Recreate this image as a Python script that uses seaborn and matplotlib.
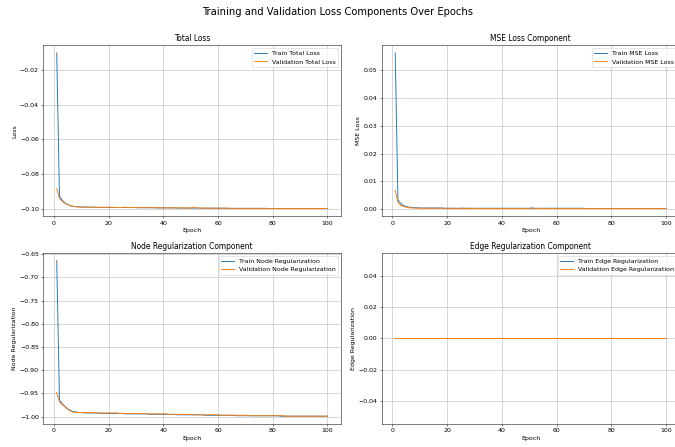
"""Training and validation loss components over epochs."""

import matplotlib
matplotlib.use('Agg')
import matplotlib.pyplot as plt
import seaborn as sns
import pandas as pd

epochs = list(range(1, 101))

train_total = [
    -0.0104, -0.0925, -0.0950, -0.0964, -0.0974, -0.0980, -0.0984, -0.0986, -0.0987, -0.0988,
    -0.0988, -0.0989, -0.0989, -0.0989, -0.0989, -0.0990, -0.0990, -0.0990, -0.0990, -0.0990,
    -0.0990, -0.0990, -0.0991, -0.0991, -0.0991, -0.0991, -0.0991, -0.0991, -0.0991, -0.0992,
    -0.0992, -0.0992, -0.0992, -0.0992, -0.0992, -0.0992, -0.0993, -0.0993, -0.0993, -0.0993,
    -0.0993, -0.0993, -0.0993, -0.0993, -0.0994, -0.0994, -0.0994, -0.0994, -0.0994, -0.0994,
    -0.0994, -0.0994, -0.0994, -0.0995, -0.0995, -0.0995, -0.0995, -0.0995, -0.0995, -0.0995,
    -0.0995, -0.0995, -0.0995, -0.0996, -0.0996, -0.0996, -0.0996, -0.0996, -0.0996, -0.0996,
    -0.0996, -0.0996, -0.0996, -0.0996, -0.0996, -0.0996, -0.0996, -0.0997, -0.0997, -0.0997,
    -0.0997, -0.0997, -0.0997, -0.0997, -0.0997, -0.0997, -0.0997, -0.0997, -0.0997, -0.0997,
    -0.0997, -0.0997, -0.0997, -0.0997, -0.0997, -0.0997, -0.0997, -0.0997, -0.0997, -0.0997,
]
val_total = [
    -0.0881, -0.0940, -0.0956, -0.0967, -0.0975, -0.0981, -0.0985, -0.0987, -0.0988, -0.0989,
    -0.0989, -0.0989, -0.0989, -0.0990, -0.0990, -0.0990, -0.0990, -0.0990, -0.0990, -0.0990,
    -0.0990, -0.0991, -0.0991, -0.0991, -0.0991, -0.0989, -0.0991, -0.0991, -0.0991, -0.0991,
    -0.0992, -0.0992, -0.0992, -0.0992, -0.0992, -0.0992, -0.0992, -0.0992, -0.0993, -0.0993,
    -0.0993, -0.0993, -0.0993, -0.0993, -0.0993, -0.0993, -0.0994, -0.0994, -0.0994, -0.0994,
    -0.0989, -0.0994, -0.0994, -0.0994, -0.0994, -0.0995, -0.0995, -0.0995, -0.0995, -0.0995,
    -0.0995, -0.0995, -0.0995, -0.0995, -0.0996, -0.0996, -0.0996, -0.0996, -0.0996, -0.0996,
    -0.0996, -0.0996, -0.0996, -0.0996, -0.0996, -0.0996, -0.0996, -0.0996, -0.0997, -0.0997,
    -0.0997, -0.0997, -0.0997, -0.0997, -0.0997, -0.0997, -0.0997, -0.0997, -0.0997, -0.0997,
    -0.0997, -0.0997, -0.0997, -0.0997, -0.0997, -0.0997, -0.0997, -0.0997, -0.0997, -0.0997,
]

train_mse = [
    0.0560, 0.0034, 0.0021, 0.0014, 0.0010, 0.0008, 0.0007, 0.0006, 0.0006, 0.0005,
    0.0005, 0.0005, 0.0005, 0.0005, 0.0005, 0.0005, 0.0005, 0.0005, 0.0004, 0.0004,
    0.0004, 0.0004, 0.0004, 0.0004, 0.0004, 0.0004, 0.0004, 0.0004, 0.0004, 0.0004,
    0.0004, 0.0004, 0.0004, 0.0004, 0.0004, 0.0004, 0.0004, 0.0004, 0.0004, 0.0004,
    0.0004, 0.0004, 0.0004, 0.0004, 0.0004, 0.0004, 0.0004, 0.0004, 0.0004, 0.0004,
    0.0004, 0.0004, 0.0004, 0.0004, 0.0004, 0.0004, 0.0004, 0.0004, 0.0004, 0.0004,
    0.0004, 0.0004, 0.0004, 0.0004, 0.0004, 0.0004, 0.0004, 0.0004, 0.0004, 0.0004,
    0.0003, 0.0003, 0.0003, 0.0003, 0.0003, 0.0003, 0.0003, 0.0003, 0.0003, 0.0003,
    0.0003, 0.0003, 0.0003, 0.0003, 0.0003, 0.0003, 0.0003, 0.0003, 0.0003, 0.0003,
    0.0003, 0.0003, 0.0003, 0.0003, 0.0003, 0.0003, 0.0003, 0.0003, 0.0003, 0.0003,
]
val_mse = [
    0.0068, 0.0024, 0.0015, 0.0010, 0.0008, 0.0006, 0.0005, 0.0005, 0.0004, 0.0004,
    0.0004, 0.0004, 0.0004, 0.0004, 0.0004, 0.0004, 0.0004, 0.0004, 0.0004, 0.0004,
    0.0004, 0.0004, 0.0003, 0.0003, 0.0003, 0.0005, 0.0003, 0.0003, 0.0003, 0.0003,
    0.0003, 0.0003, 0.0003, 0.0003, 0.0003, 0.0003, 0.0003, 0.0003, 0.0003, 0.0003,
    0.0003, 0.0003, 0.0003, 0.0003, 0.0003, 0.0003, 0.0003, 0.0003, 0.0003, 0.0003,
    0.0006, 0.0003, 0.0003, 0.0003, 0.0003, 0.0003, 0.0003, 0.0003, 0.0003, 0.0003,
    0.0003, 0.0003, 0.0003, 0.0003, 0.0003, 0.0003, 0.0003, 0.0003, 0.0003, 0.0003,
    0.0003, 0.0003, 0.0003, 0.0003, 0.0003, 0.0003, 0.0003, 0.0003, 0.0003, 0.0003,
    0.0003, 0.0003, 0.0003, 0.0003, 0.0003, 0.0003, 0.0003, 0.0003, 0.0003, 0.0003,
    0.0003, 0.0003, 0.0003, 0.0003, 0.0003, 0.0003, 0.0003, 0.0003, 0.0003, 0.0003,
]

train_node = [
    -0.664, -0.964, -0.972, -0.978, -0.983, -0.987, -0.989, -0.990, -0.991, -0.991,
    -0.992, -0.992, -0.992, -0.992, -0.992, -0.992, -0.993, -0.993, -0.993, -0.993,
    -0.993, -0.993, -0.993, -0.993, -0.993, -0.994, -0.994, -0.994, -0.994, -0.994,
    -0.994, -0.994, -0.994, -0.994, -0.995, -0.995, -0.995, -0.995, -0.995, -0.995,
    -0.995, -0.995, -0.995, -0.995, -0.996, -0.996, -0.996, -0.996, -0.996, -0.996,
    -0.996, -0.996, -0.996, -0.996, -0.997, -0.997, -0.997, -0.997, -0.997, -0.997,
    -0.997, -0.997, -0.997, -0.997, -0.997, -0.997, -0.998, -0.998, -0.998, -0.998,
    -0.998, -0.998, -0.998, -0.998, -0.998, -0.998, -0.998, -0.998, -0.998, -0.998,
    -0.998, -0.998, -0.999, -0.999, -0.999, -0.999, -0.999, -0.999, -0.999, -0.999,
    -0.999, -0.999, -0.999, -0.999, -0.999, -0.999, -0.999, -0.999, -0.999, -0.999,
]
val_node = [
    -0.948, -0.968, -0.974, -0.979, -0.984, -0.988, -0.990, -0.991, -0.991, -0.991,
    -0.991, -0.991, -0.991, -0.991, -0.992, -0.992, -0.992, -0.992, -0.992, -0.992,
    -0.992, -0.992, -0.992, -0.993, -0.993, -0.993, -0.993, -0.993, -0.993, -0.993,
    -0.993, -0.993, -0.994, -0.994, -0.994, -0.994, -0.994, -0.994, -0.994, -0.994,
    -0.994, -0.995, -0.995, -0.995, -0.995, -0.995, -0.995, -0.995, -0.995, -0.995,
    -0.996, -0.996, -0.996, -0.996, -0.996, -0.996, -0.996, -0.996, -0.996, -0.996,
    -0.997, -0.997, -0.997, -0.997, -0.997, -0.997, -0.997, -0.997, -0.997, -0.997,
    -0.997, -0.998, -0.998, -0.998, -0.998, -0.998, -0.998, -0.998, -0.998, -0.998,
    -0.998, -0.998, -0.998, -0.998, -0.999, -0.999, -0.999, -0.999, -0.999, -0.999,
    -0.999, -0.999, -0.999, -0.999, -0.999, -0.999, -0.999, -0.999, -0.999, -0.999,
]

train_edge = [
    0.0, 0.0, 0.0, 0.0, 0.0, 0.0, 0.0, 0.0, 0.0, 0.0,
    0.0, 0.0, 0.0, 0.0, 0.0, 0.0, 0.0, 0.0, 0.0, 0.0,
    0.0, 0.0, 0.0, 0.0, 0.0, 0.0, 0.0, 0.0, 0.0, 0.0,
    0.0, 0.0, 0.0, 0.0, 0.0, 0.0, 0.0, 0.0, 0.0, 0.0,
    0.0, 0.0, 0.0, 0.0, 0.0, 0.0, 0.0, 0.0, 0.0, 0.0,
    0.0, 0.0, 0.0, 0.0, 0.0, 0.0, 0.0, 0.0, 0.0, 0.0,
    0.0, 0.0, 0.0, 0.0, 0.0, 0.0, 0.0, 0.0, 0.0, 0.0,
    0.0, 0.0, 0.0, 0.0, 0.0, 0.0, 0.0, 0.0, 0.0, 0.0,
    0.0, 0.0, 0.0, 0.0, 0.0, 0.0, 0.0, 0.0, 0.0, 0.0,
    0.0, 0.0, 0.0, 0.0, 0.0, 0.0, 0.0, 0.0, 0.0, 0.0,
]
val_edge = [
    0.0, 0.0, 0.0, 0.0, 0.0, 0.0, 0.0, 0.0, 0.0, 0.0,
    0.0, 0.0, 0.0, 0.0, 0.0, 0.0, 0.0, 0.0, 0.0, 0.0,
    0.0, 0.0, 0.0, 0.0, 0.0, 0.0, 0.0, 0.0, 0.0, 0.0,
    0.0, 0.0, 0.0, 0.0, 0.0, 0.0, 0.0, 0.0, 0.0, 0.0,
    0.0, 0.0, 0.0, 0.0, 0.0, 0.0, 0.0, 0.0, 0.0, 0.0,
    0.0, 0.0, 0.0, 0.0, 0.0, 0.0, 0.0, 0.0, 0.0, 0.0,
    0.0, 0.0, 0.0, 0.0, 0.0, 0.0, 0.0, 0.0, 0.0, 0.0,
    0.0, 0.0, 0.0, 0.0, 0.0, 0.0, 0.0, 0.0, 0.0, 0.0,
    0.0, 0.0, 0.0, 0.0, 0.0, 0.0, 0.0, 0.0, 0.0, 0.0,
    0.0, 0.0, 0.0, 0.0, 0.0, 0.0, 0.0, 0.0, 0.0, 0.0,
]

panels = [
    ('Total Loss', 'Loss', 'Total Loss', train_total, val_total),
    ('MSE Loss Component', 'MSE Loss', 'MSE Loss', train_mse, val_mse),
    ('Node Regularization Component', 'Node Regularization',
     'Node Regularization', train_node, val_node),
    ('Edge Regularization Component', 'Edge Regularization',
     'Edge Regularization', train_edge, val_edge),
]

DPI = 45
fig, axes = plt.subplots(2, 2, figsize=(675 / DPI, 447 / DPI), dpi=DPI)

for ax, (title, ylabel, name, train, val) in zip(axes.flat, panels):
    df = pd.DataFrame({'Epoch': epochs, 'train': train, 'val': val})
    sns.lineplot(data=df, x='Epoch', y='train', ax=ax, label=f'Train {name}')
    sns.lineplot(data=df, x='Epoch', y='val', ax=ax, label=f'Validation {name}')
    ax.set_title(title)
    ax.set_xlabel('Epoch')
    ax.set_ylabel(ylabel)
    ax.grid(True)
    ax.legend(loc='upper right')

fig.suptitle('Training and Validation Loss Components Over Epochs',
             fontsize=16, y=0.985)
# the original was trimmed a little on the right edge
fig.subplots_adjust(left=0.064, right=1.0065, top=0.899, bottom=0.0515,
                    wspace=0.137, hspace=0.213)
fig.savefig('out.png', dpi=DPI)
